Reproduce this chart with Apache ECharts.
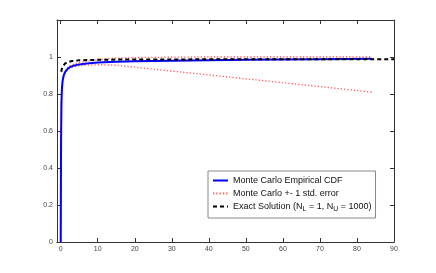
<!DOCTYPE html>
<html>
<head>
<meta charset="utf-8">
<script src="https://cdn.jsdelivr.net/npm/echarts@6/dist/echarts.min.js"></script>
<style>html,body{margin:0;padding:0;background:#fff;}#c{width:436px;height:273px;}</style>
</head>
<body>
<div id="c"></div>
<script>
// ---- data ----
const xTicks = [0, 10, 20, 30, 40, 50, 60, 70, 80, 90];
const yTicks = [0, 0.2, 0.4, 0.6, 0.8, 1];

const mcX = [0, 0.05, 0.1, 0.2, 0.3, 0.5, 0.8, 1.2, 1.8, 2.5, 3.5, 5, 7, 10, 15, 20, 30, 40, 50, 60, 70, 84];
const mcY = [0, 0.3, 0.55, 0.75, 0.82, 0.87, 0.9, 0.92, 0.935, 0.945, 0.953, 0.96, 0.965, 0.97, 0.974, 0.977, 0.98, 0.983, 0.985, 0.987, 0.988, 0.99];

const upX = [0, 0.05, 0.1, 0.2, 0.3, 0.5, 0.8, 1.2, 1.8, 2.5, 3.5, 5, 7, 10, 14, 20, 30, 40, 50, 60, 70, 84];
const upY = [0, 0.31, 0.56, 0.76, 0.83, 0.875, 0.905, 0.925, 0.94, 0.952, 0.962, 0.97, 0.977, 0.985, 0.993, 0.997, 0.999, 1.0, 1.0, 1.0, 1.0, 1.0];

const loX = [0, 0.05, 0.1, 0.2, 0.3, 0.5, 0.8, 1.2, 1.8, 2.5, 3.5, 5, 8, 11, 15, 20, 30, 40, 50, 60, 70, 84];
const loY = [0, 0.29, 0.54, 0.74, 0.81, 0.865, 0.895, 0.915, 0.93, 0.94, 0.947, 0.953, 0.957, 0.958, 0.955, 0.945, 0.924, 0.903, 0.882, 0.861, 0.84, 0.81];

const exX = [0.15, 0.3, 0.5, 0.8, 1.2, 1.6, 2, 3, 5, 8, 15, 30, 60, 90];
const exY = [0.92, 0.935, 0.947, 0.957, 0.965, 0.969, 0.973, 0.978, 0.982, 0.984, 0.986, 0.987, 0.988, 0.988];

const names = ['Monte Carlo Empirical CDF', 'Monte Carlo +- 1 std. error', 'Exact Solution'];

const zip = (a, b) => a.map((v, i) => [v, b[i]]);
const FONT = 'Liberation Sans';
const AX = '#333';
const RED = '#ff5a5a';

const chart = echarts.init(document.getElementById('c'), null, {renderer: 'canvas'});
const baseX = {
  type: 'value', min: -1, max: 90,
  axisLine: {show: true, onZero: false, lineStyle: {color: AX, width: 1}},
  axisTick: {show: true, inside: true, length: 4, customValues: xTicks, lineStyle: {color: AX}},
  splitLine: {show: false}
};
const baseY = {
  type: 'value', min: 0, max: 1.2,
  axisLine: {show: true, onZero: false, lineStyle: {color: AX, width: 1}},
  axisTick: {show: true, inside: true, length: 4, customValues: yTicks, lineStyle: {color: AX}},
  splitLine: {show: false}
};
chart.setOption({
  animation: false,
  backgroundColor: '#fff',
  grid: {left: 57, right: 42, top: 20, bottom: 31, containLabel: false},
  xAxis: [
    Object.assign({}, baseX, {position: 'bottom',
      axisLabel: {customValues: xTicks, fontSize: 7, color: '#444', fontFamily: FONT, margin: 4}}),
    Object.assign({}, baseX, {position: 'top', axisLabel: {show: false}})
  ],
  yAxis: [
    Object.assign({}, baseY, {position: 'left',
      axisLabel: {customValues: yTicks, fontSize: 7, color: '#444', fontFamily: FONT, margin: 4}}),
    Object.assign({}, baseY, {position: 'right', axisLabel: {show: false}})
  ],
  legend: {
    orient: 'vertical', left: 208, top: 171,
    data: names,
    backgroundColor: '#fff', borderColor: '#888', borderWidth: 1, borderRadius: 0,
    padding: [5, 4, 5, 4], itemWidth: 15, itemHeight: 10, itemGap: 4,
    itemStyle: {opacity: 0},
    textStyle: {fontFamily: FONT, fontSize: 9, color: '#111',
      rich: {sub: {fontSize: 7, fontFamily: FONT, color: '#111', padding: [6, 0, 0, 0]}}},
    formatter: n => n === names[2] ? 'Exact Solution (N{sub|L} = 1, N{sub|U} = 1000)' : n
  },
  series: [
    {name: names[1], type: 'line', data: zip(upX, upY), showSymbol: false, symbol: 'none',
     lineStyle: {color: RED, width: 1.3, type: [1.3, 2]}, itemStyle: {color: RED}, z: 2},
    {name: names[1], type: 'line', data: zip(loX, loY), showSymbol: false, symbol: 'none',
     lineStyle: {color: RED, width: 1.3, type: [1.3, 2]}, itemStyle: {color: RED}, z: 2},
    {name: names[0], type: 'line', data: zip(mcX, mcY), showSymbol: false, symbol: 'none',
     lineStyle: {color: '#0000ff', width: 2}, itemStyle: {color: '#0000ff'}, z: 3},
    {name: names[2], type: 'line', data: zip(exX, exY), showSymbol: false, symbol: 'none',
     lineStyle: {color: '#000', width: 2, type: [4, 3]}, itemStyle: {color: '#000'}, z: 4}
  ]
});
</script>
</body>
</html>
